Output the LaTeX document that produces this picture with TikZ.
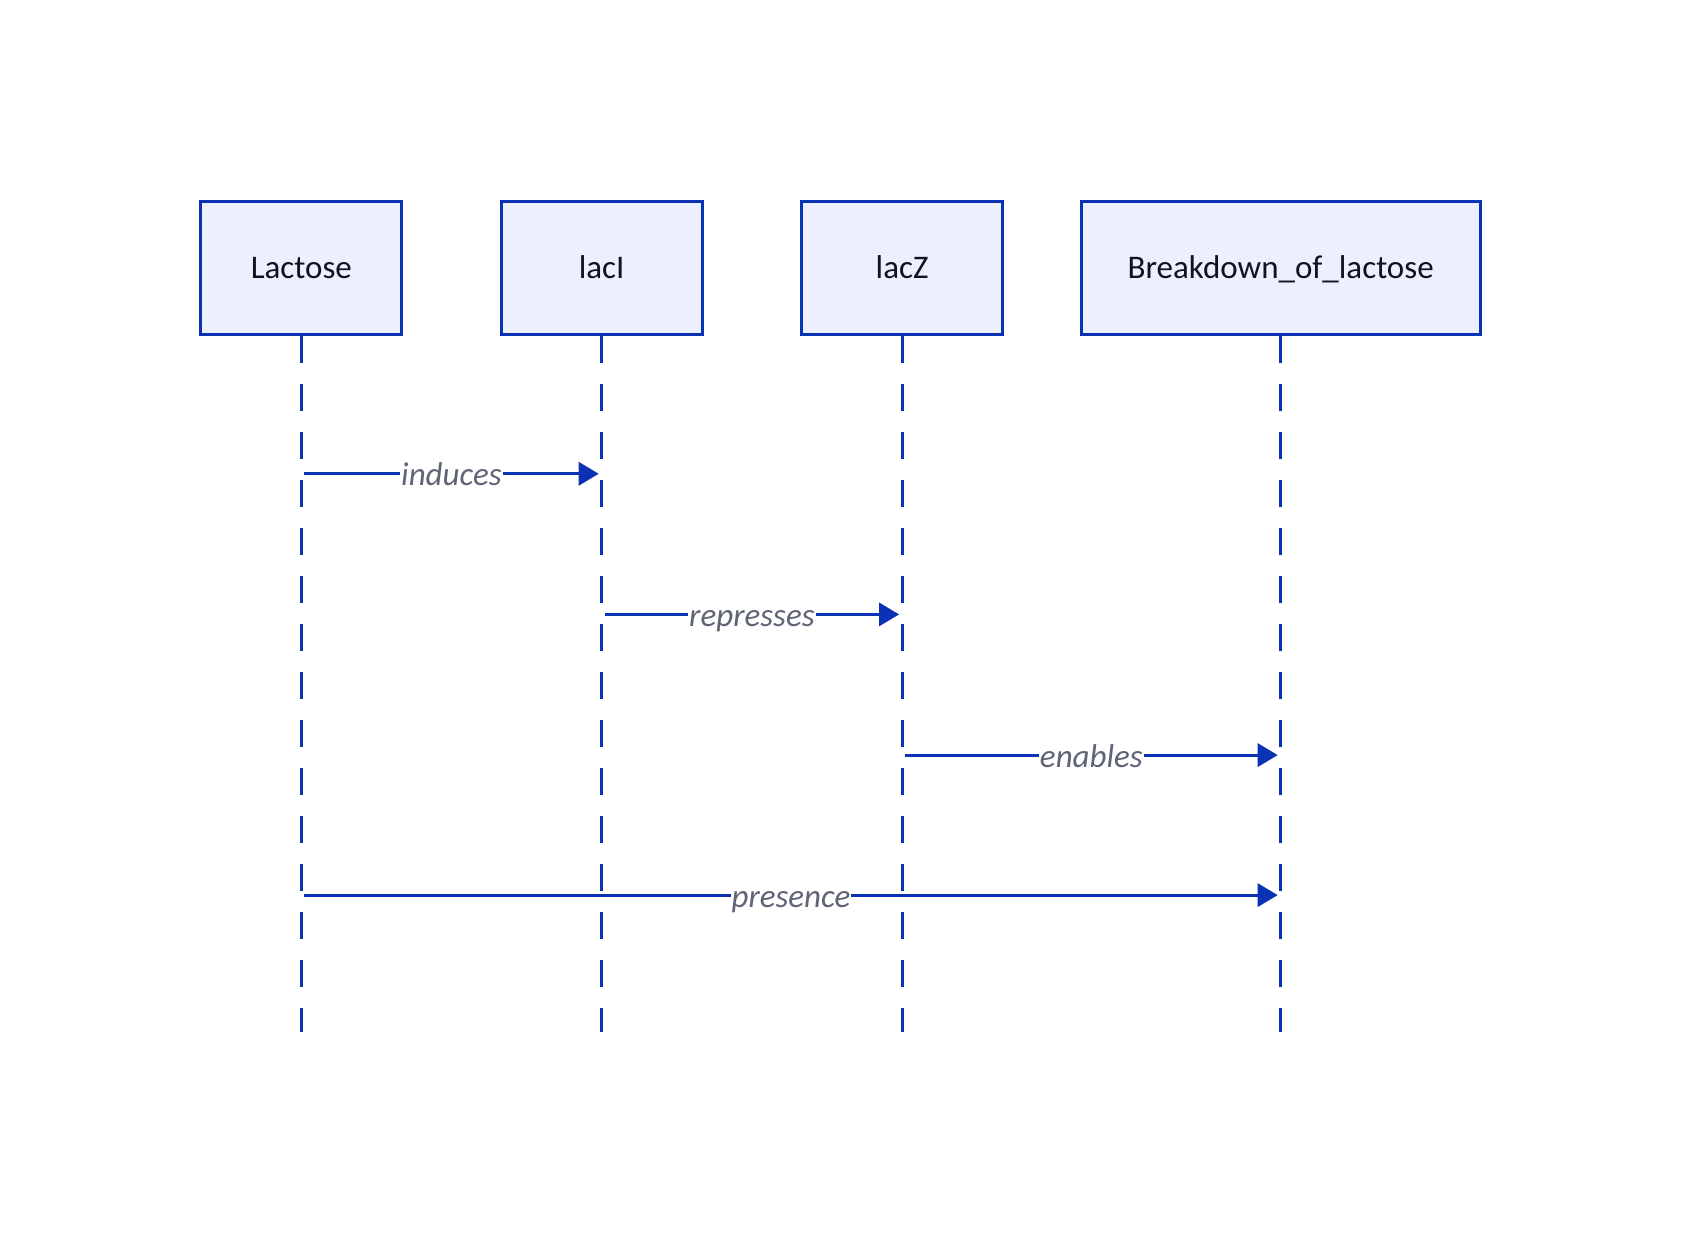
\documentclass[tikz,border=0pt]{standalone}
\usepackage{fontspec}
\setmainfont{Carlito}
\usetikzlibrary{positioning,arrows.meta}
\definecolor{lineblue}{HTML}{0B32B5}
\definecolor{boxfill}{HTML}{ECF0FC}
\definecolor{labelgray}{HTML}{5F6477}
\definecolor{textdark}{HTML}{111122}
\tikzset{>={Triangle[length=20pt,width=23pt]}}
\tikzset{
  actor/.style={draw=lineblue, line width=3.2pt, fill=boxfill, minimum width=201pt, minimum height=133pt, text height=22pt, text depth=0pt, text=textdark, font=\fontsize{33}{40}\selectfont},
  lifeline/.style={draw=lineblue, line width=3.2pt, dash pattern=on 27pt off 21pt},
  msg/.style={->, draw=lineblue, line width=3.2pt, shorten <=3pt, shorten >=3pt},
  msglabel/.style={fill=white, inner sep=1pt, anchor=base, yshift=-12pt, text=labelgray, font=\fontsize{33}{40}\selectfont\itshape}
}

\begin{document}
\begin{tikzpicture}
      \useasboundingbox[fill=white] (0,0) rectangle (1682pt,-1236pt);
      \node[actor] (lactose) at (301.3pt,-267.6pt) {Lactose};
      \node[actor, right of=lactose, node distance=300.4pt] (laci) {lacI};
      \node[actor, right of=laci, node distance=300.4pt] (lacz) {lacZ};
      \node[actor, right of=lacz, node distance=378.6pt, minimum width=399pt] (breakdown) {Breakdown\_of\_lactose};
      \foreach \n in {lactose,laci,lacz,breakdown}{
        \coordinate[below of=\n, node distance=764pt] (\n-end);
        \draw[lifeline] (\n.south) -- (\n-end);
      }
      \coordinate[below of=lactose, node distance=206.2pt] (m1s);
      \coordinate[below of=laci, node distance=206.2pt] (m1e);
      \coordinate[below of=laci, node distance=346.8pt] (m2s);
      \coordinate[below of=lacz, node distance=346.8pt] (m2e);
      \coordinate[below of=lacz, node distance=487.5pt] (m3s);
      \coordinate[below of=breakdown, node distance=487.5pt] (m3e);
      \coordinate[below of=lactose, node distance=627.5pt] (m4s);
      \coordinate[below of=breakdown, node distance=627.5pt] (m4e);
      \draw[msg] (m1s) -- (m1e) node[msglabel, midway] (induces) {induces};
      \draw[msg] (m2s) -- (m2e) node[msglabel, midway] (represses) {represses};
      \draw[msg] (m3s) -- (m3e) node[msglabel, midway] (enables) {enables};
      \draw[msg] (m4s) -- (m4e) node[msglabel, midway] (presence) {presence};
    \end{tikzpicture}
\end{document}
